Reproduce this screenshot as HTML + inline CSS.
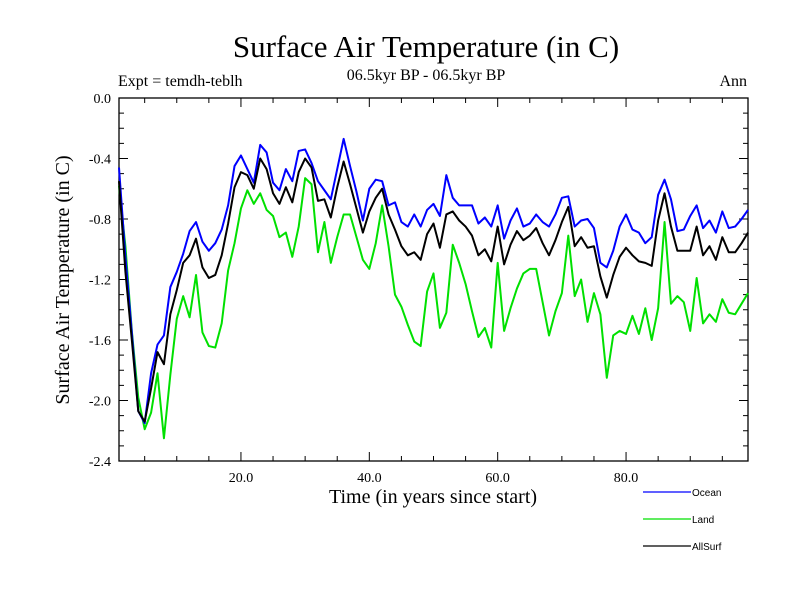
<!DOCTYPE html>
<html><head><meta charset="utf-8"><style>
body{margin:0;background:#fff}
svg text{font-family:"Liberation Serif",serif}
svg text.sans{font-family:"Liberation Sans",sans-serif}
</style></head><body>
<svg id="chart" width="800" height="600" xmlns="http://www.w3.org/2000/svg">
<text x="426" y="57" font-size="31" text-anchor="middle">Surface Air Temperature (in C)</text>
<text x="118" y="86" font-size="16">Expt = temdh-teblh</text>
<text x="426" y="80" font-size="16" text-anchor="middle">06.5kyr BP - 06.5kyr BP</text>
<text x="747" y="86" font-size="16" text-anchor="end">Ann</text>
<text x="0" y="0" font-size="20" text-anchor="middle" transform="translate(69,280) rotate(-90)">Surface Air Temperature (in C)</text>
<text x="433" y="503" font-size="20" text-anchor="middle">Time (in years since start)</text>
<g id="axes"></g>
<g id="series"></g>
<g id="legend"></g>
</svg>
<script>
const years = [];
for (let i = 1; i <= 99; i++) years.push(i);
const ocean = [-0.46,-1.05,-1.55,-2.07,-2.15,-1.82,-1.63,-1.57,-1.25,-1.15,-1.03,-0.88,-0.82,-0.95,-1.01,-0.96,-0.87,-0.71,-0.45,-0.38,-0.47,-0.56,-0.31,-0.36,-0.56,-0.61,-0.47,-0.55,-0.35,-0.34,-0.43,-0.55,-0.61,-0.67,-0.47,-0.27,-0.45,-0.62,-0.81,-0.60,-0.54,-0.55,-0.71,-0.69,-0.82,-0.85,-0.77,-0.85,-0.74,-0.70,-0.78,-0.51,-0.66,-0.71,-0.71,-0.71,-0.83,-0.79,-0.85,-0.71,-0.93,-0.81,-0.73,-0.85,-0.83,-0.77,-0.82,-0.85,-0.77,-0.66,-0.65,-0.85,-0.81,-0.80,-0.86,-1.09,-1.12,-1.01,-0.85,-0.77,-0.87,-0.89,-0.96,-0.92,-0.64,-0.54,-0.67,-0.88,-0.87,-0.78,-0.71,-0.86,-0.81,-0.89,-0.75,-0.86,-0.85,-0.80,-0.74];
const land = [-0.58,-0.98,-1.54,-1.98,-2.19,-2.08,-1.82,-2.25,-1.83,-1.46,-1.31,-1.45,-1.17,-1.55,-1.64,-1.65,-1.49,-1.14,-0.96,-0.73,-0.61,-0.70,-0.63,-0.74,-0.78,-0.92,-0.89,-1.05,-0.85,-0.53,-0.57,-1.02,-0.82,-1.09,-0.92,-0.77,-0.77,-0.92,-1.07,-1.13,-0.96,-0.71,-0.98,-1.30,-1.38,-1.50,-1.61,-1.64,-1.28,-1.16,-1.52,-1.42,-0.97,-1.09,-1.23,-1.41,-1.58,-1.52,-1.65,-1.09,-1.54,-1.39,-1.26,-1.16,-1.13,-1.13,-1.35,-1.57,-1.41,-1.29,-0.91,-1.31,-1.20,-1.48,-1.29,-1.43,-1.85,-1.57,-1.54,-1.56,-1.44,-1.56,-1.39,-1.60,-1.39,-0.82,-1.36,-1.31,-1.35,-1.54,-1.19,-1.49,-1.43,-1.48,-1.33,-1.42,-1.43,-1.36,-1.29];
const allSurf = [-0.55,-1.15,-1.60,-2.07,-2.14,-1.92,-1.68,-1.76,-1.43,-1.27,-1.09,-1.04,-0.93,-1.12,-1.19,-1.17,-1.04,-0.83,-0.59,-0.49,-0.51,-0.60,-0.40,-0.47,-0.63,-0.70,-0.59,-0.69,-0.49,-0.40,-0.46,-0.68,-0.67,-0.79,-0.59,-0.42,-0.57,-0.73,-0.89,-0.75,-0.66,-0.60,-0.77,-0.87,-0.98,-1.04,-1.02,-1.07,-0.90,-0.83,-0.99,-0.77,-0.75,-0.81,-0.85,-0.91,-1.04,-1.00,-1.08,-0.85,-1.10,-0.97,-0.88,-0.94,-0.91,-0.86,-0.96,-1.04,-0.94,-0.82,-0.72,-0.98,-0.92,-0.99,-0.98,-1.18,-1.32,-1.17,-1.05,-0.99,-1.04,-1.08,-1.09,-1.11,-0.81,-0.63,-0.85,-1.01,-1.01,-1.01,-0.85,-1.04,-0.98,-1.07,-0.92,-1.02,-1.02,-0.96,-0.89];
const yTickValues = [0.0,-0.4,-0.8,-1.2,-1.6,-2.0,-2.4];
const yTickLabels = ["0.0","-0.4","-0.8","-1.2","-1.6","-2.0","-2.4"];
const xTickValues = [20,40,60,80];
const xTickLabels = ["20.0","40.0","60.0","80.0"];

const L=119,R=748,T=98,B=461,XMIN=1,XMAX=99,YMIN=-2.4,YMAX=0;
const xs=v=>L+(v-XMIN)/(XMAX-XMIN)*(R-L);
const ys=v=>T+(YMAX-v)/(YMAX-YMIN)*(B-T);
const NS="http://www.w3.org/2000/svg";
function mk(tag,attrs,parent){const e=document.createElementNS(NS,tag);for(const k in attrs)e.setAttribute(k,attrs[k]);parent.appendChild(e);return e;}
const axes=document.getElementById('axes');
const frame=mk('rect',{x:L,y:T,width:R-L,height:B-T,fill:'none',stroke:'#000','stroke-width':1.3},axes);


for(let k=0;k<=24;k++){
  const v=-k*0.1, y=ys(v), major=k%4===0, len=major?9:5;
  const t1=mk('line',{x1:L,x2:L+len,y1:y,y2:y,stroke:'#000'},axes);
  
  
  const t2=mk('line',{x1:R,x2:R-len,y1:y,y2:y,stroke:'#000'},axes);
  
  
}
yTickValues.forEach((v,i)=>{
  const t=mk('text',{x:L-8,y:ys(v)+5,'font-size':14,'text-anchor':'end'},axes);
  t.textContent=yTickLabels[i];
  
  
});
for(let v=5;v<XMAX;v+=5){
  const x=xs(v), major=v%20===0, len=major?9:5;
  const t1=mk('line',{x1:x,x2:x,y1:B,y2:B-len,stroke:'#000'},axes);
  
  
  const t2=mk('line',{x1:x,x2:x,y1:T,y2:T+len,stroke:'#000'},axes);
  
  
}
xTickValues.forEach((v,i)=>{
  const t=mk('text',{x:xs(v),y:B+21,'font-size':14,'text-anchor':'middle'},axes);
  t.textContent=xTickLabels[i];
  
  
});
const sg=document.getElementById('series');
const defs=[[land,'#00e000','land-line'],[ocean,'#0000ff','ocean-line'],[allSurf,'#000','allsurf-line']];
defs.forEach(([arr,c,name])=>{
  const p=mk('polyline',{points:arr.map((v,i)=>xs(years[i])+','+ys(v)).join(' '),fill:'none',stroke:c,'stroke-width':2,'stroke-linejoin':'round'},sg);
  
  
});
const lg=document.getElementById('legend');
[['Ocean','#0000ff',492],['Land','#00e000',519],['AllSurf','#000',546]].forEach(([lab,c,y])=>{
  const l=mk('line',{x1:643,x2:691,y1:y,y2:y,stroke:c,'stroke-width':1.3},lg);
  
  
  const t=mk('text',{x:692,y:y+4,'font-size':10,'class':'sans'},lg);
  t.textContent=lab;
  
  
});
</script>
</body></html>
